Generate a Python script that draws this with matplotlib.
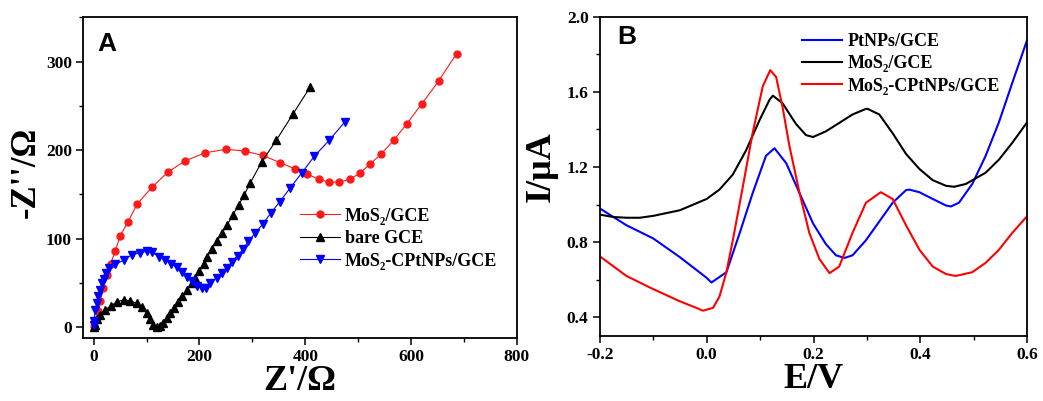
import numpy as np
import matplotlib
matplotlib.use('Agg')
import matplotlib.pyplot as plt
from matplotlib.ticker import MultipleLocator, FormatStrFormatter

# ---- Panel A: Nyquist plots (Z' / -Z'') ----
mos2_x = [1, 4, 8, 13, 18, 25, 32, 41, 50, 65, 82, 110, 140, 173, 211, 250, 286, 320,
          352, 380, 404, 426, 445, 464, 484, 503, 522, 544, 567, 592, 620, 652, 686]
mos2_y = [2, 8, 18, 30, 45, 59, 72, 86, 103, 119, 139, 158, 175, 188, 197, 201, 199, 194,
          186, 179, 173, 167, 164, 164, 167, 174, 184, 196, 211, 230, 252, 278, 309]

bare_x = [1, 3, 6, 13, 22, 32, 44, 57, 69, 82, 91, 101, 107, 113, 120, 126, 132, 139,
          145, 151, 159, 167, 176, 186, 192, 200, 208, 215, 223, 233, 242, 253, 263,
          274, 284, 296, 318, 345, 377, 409]
bare_y = [1, 3, 9, 14, 20, 24, 29, 31, 30, 27, 23, 16, 9, 3, 1, 2, 5, 11,
          16, 22, 29, 35, 42, 50, 56, 64, 72, 80, 89, 97, 106, 116, 127,
          138, 149, 163, 187, 211, 241, 271]

comp_x = [0, 1, 3, 6, 9, 13, 16, 19, 23, 30, 41, 57, 72, 88, 100, 110, 123, 135, 146,
          157, 167, 176, 186, 195, 204, 212, 220, 233, 242, 252, 261, 272, 282, 292,
          305, 320, 335, 352, 371, 393, 417, 445, 475]
comp_y = [3, 7, 20, 27, 35, 42, 50, 55, 61, 67, 71, 76, 82, 84, 86, 85, 80, 76, 72,
          68, 63, 57, 52, 47, 44, 45, 50, 56, 61, 67, 74, 81, 88, 97,
          106, 117, 129, 142, 157, 174, 193, 211, 232]

# ---- Panel B: DPV curves ----
pt_E = [-0.2, -0.15, -0.1, -0.05, 0.0, 0.009, 0.037, 0.062, 0.086, 0.111, 0.127, 0.149,
        0.174, 0.199, 0.223, 0.242, 0.258, 0.273, 0.298, 0.323, 0.348, 0.373, 0.379,
        0.398, 0.423, 0.448, 0.457, 0.472, 0.497, 0.522, 0.547, 0.572, 0.6]
pt_I = [0.98, 0.89, 0.82, 0.72, 0.61, 0.585, 0.64, 0.85, 1.06, 1.26, 1.30, 1.22,
        1.06, 0.90, 0.79, 0.73, 0.716, 0.73, 0.81, 0.91, 1.01, 1.077, 1.08,
        1.066, 1.03, 0.995, 0.99, 1.01, 1.11, 1.26, 1.44, 1.65, 1.88]

mo_E = [-0.2, -0.175, -0.15, -0.125, -0.1, -0.05, 0.0, 0.024, 0.049, 0.074, 0.099, 0.118,
        0.124, 0.142, 0.167, 0.186, 0.199, 0.223, 0.248, 0.273, 0.298, 0.301, 0.323,
        0.348, 0.373, 0.398, 0.423, 0.448, 0.463, 0.485, 0.522, 0.547, 0.572, 0.6]
mo_I = [0.947, 0.934, 0.93, 0.93, 0.94, 0.97, 1.03, 1.08, 1.16, 1.29, 1.45, 1.56,
        1.58, 1.54, 1.43, 1.37, 1.36, 1.39, 1.435, 1.48, 1.51, 1.51, 1.48,
        1.38, 1.27, 1.19, 1.13, 1.10, 1.095, 1.11, 1.17, 1.24, 1.33, 1.44]

cpt_E = [-0.2, -0.15, -0.1, -0.05, -0.019, -0.007, 0.012, 0.024, 0.037, 0.049, 0.068,
         0.086, 0.105, 0.119, 0.130, 0.142, 0.155, 0.174, 0.192, 0.211, 0.230, 0.248,
         0.273, 0.298, 0.326, 0.348, 0.373, 0.398, 0.423, 0.448, 0.466, 0.497, 0.522,
         0.547, 0.572, 0.6]
cpt_I = [0.725, 0.62, 0.55, 0.485, 0.45, 0.435, 0.45, 0.51, 0.64, 0.81, 1.10,
         1.38, 1.63, 1.716, 1.68, 1.52, 1.31, 1.06, 0.85, 0.71, 0.635, 0.67,
         0.85, 1.01, 1.066, 1.03, 0.89, 0.76, 0.67, 0.63, 0.62, 0.64, 0.69,
         0.76, 0.85, 0.94]

SERIF = ['Liberation Serif', 'DejaVu Serif']
plt.rcParams['font.family'] = SERIF
plt.rcParams['font.weight'] = 'bold'

fig = plt.figure(figsize=(10.43, 4.01), dpi=100)
axA = fig.add_axes([0.0796, 0.157, 0.416, 0.800])
axB = fig.add_axes([0.575, 0.162, 0.410, 0.796])

axA.plot(mos2_x, mos2_y, '-o', color='#ff1a1a', lw=0.8, ms=5, label='MoS₂/GCE')
axA.plot(bare_x, bare_y, '-^', color='black', lw=0.8, ms=5.5, label='bare GCE')
axA.plot(comp_x, comp_y, '-v', color='#0000ff', lw=0.8, ms=5.5, label='MoS₂-CPtNPs/GCE')
axA.set_xlim(-20, 800)
axA.set_ylim(-12, 350)
axA.xaxis.set_major_locator(MultipleLocator(200))
axA.xaxis.set_minor_locator(MultipleLocator(100))
axA.yaxis.set_major_locator(MultipleLocator(100))
axA.yaxis.set_minor_locator(MultipleLocator(50))
axA.set_xlabel("Z'/Ω", fontsize=26, fontweight='bold', labelpad=0)
axA.set_ylabel("-Z''/Ω", fontsize=25, fontweight='bold')
axA.yaxis.set_label_coords(-0.092, 0.517)
axA.text(0.032, 0.955, 'A', transform=axA.transAxes, fontsize=19, fontweight='bold',
         family='Liberation Sans', va='top', ha='left')
axA.legend(loc='center left', bbox_to_anchor=(0.5, 0.31), frameon=False,
           borderpad=0, borderaxespad=0, handlelength=2.2, handletextpad=0.3,
           labelspacing=0.3, prop={'size': 13, 'weight': 'bold'})

axB.plot(pt_E, pt_I, color='#0000ff', lw=1.5, label='PtNPs/GCE')
axB.plot(mo_E, mo_I, color='black', lw=1.5, label='MoS₂/GCE')
axB.plot(cpt_E, cpt_I, color='#ff0000', lw=1.5, label='MoS₂-CPtNPs/GCE')
axB.set_xlim(-0.2, 0.6)
axB.set_ylim(0.3, 2.0)
axB.xaxis.set_major_locator(MultipleLocator(0.2))
axB.xaxis.set_minor_locator(MultipleLocator(0.1))
axB.yaxis.set_major_locator(MultipleLocator(0.4))
axB.yaxis.set_minor_locator(MultipleLocator(0.2))
axB.xaxis.set_major_formatter(FormatStrFormatter('%.1f'))
axB.yaxis.set_major_formatter(FormatStrFormatter('%.1f'))
axB.set_xlabel('E/V', fontsize=26, fontweight='bold', labelpad=0)
axB.set_ylabel('I/μA', fontsize=26, fontweight='bold')
axB.yaxis.set_label_coords(-0.098, 0.53)
axB.text(0.04, 0.975, 'B', transform=axB.transAxes, fontsize=19, fontweight='bold',
         family='Liberation Sans', va='top', ha='left')
axB.legend(loc='center left', bbox_to_anchor=(0.474, 0.853), frameon=False,
           borderpad=0, borderaxespad=0, handlelength=2.2, handletextpad=0.3,
           labelspacing=0.3, prop={'size': 13, 'weight': 'bold'})

for ax in (axA, axB):
    ax.tick_params(which='major', direction='out', length=5, width=1.1,
                   labelsize=12.5, top=False, right=False, pad=3)
    ax.tick_params(which='minor', direction='out', length=3, width=1.0,
                   top=False, right=False)
    for s in ax.spines.values():
        s.set_linewidth(1.3)
    for lbl in ax.get_xticklabels() + ax.get_yticklabels():
        lbl.set_fontweight('bold')

fig.savefig('out.png', dpi=100, facecolor='white')
